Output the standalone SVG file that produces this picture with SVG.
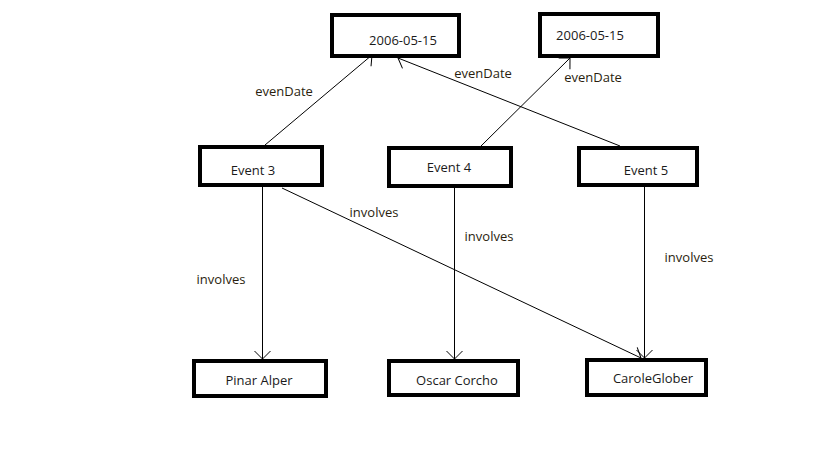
<svg xmlns="http://www.w3.org/2000/svg" width="819" height="460" viewBox="0 0 819 460">
<style>
.box{fill:#fff;stroke:#000;stroke-width:4}
.t{font-family:"Open Sans","Liberation Sans",sans-serif;font-size:13px;fill:#1a1a1a;text-anchor:middle}
.l{font-family:"Open Sans","Liberation Sans",sans-serif;font-size:13px;fill:#2a1e0e;text-anchor:middle}
.c{fill:none;stroke:#000;stroke-width:1}
</style>
<defs>
<marker id="arr" markerUnits="userSpaceOnUse" viewBox="-10 -10 12 20" refX="0" refY="0" markerWidth="12" markerHeight="20" orient="auto" overflow="visible">
<path d="M-8,-8 L0,0 L-8,8" fill="none" stroke="#000" stroke-width="1"/>
</marker>
</defs>
<rect width="819" height="460" fill="#fff"/>
<g id="connectors">
<line class="c" x1="265" y1="145" x2="372" y2="55" marker-end="url(#arr)"/>
<line class="c" x1="620" y1="146" x2="398" y2="58" marker-end="url(#arr)"/>
<line class="c" x1="481" y1="146" x2="570" y2="58" marker-end="url(#arr)"/>
<line class="c" x1="262.5" y1="187" x2="262.5" y2="359" marker-end="url(#arr)"/>
<line class="c" x1="454.5" y1="188" x2="454.5" y2="359" marker-end="url(#arr)"/>
<line class="c" x1="644.5" y1="187" x2="644.5" y2="358" marker-end="url(#arr)"/>
<line class="c" x1="282" y1="188" x2="641" y2="358" marker-end="url(#arr)"/>
<text class="l" x="284" y="96">evenDate</text>
<text class="l" x="483" y="78">evenDate</text>
<text class="l" x="593" y="82">evenDate</text>
<text class="l" x="221" y="284">involves</text>
<text class="l" x="374" y="217">involves</text>
<text class="l" x="489" y="241">involves</text>
<text class="l" x="689" y="262">involves</text>
</g>
<g id="dateA"><rect class="box" x="332" y="15" width="127" height="41"/><text class="t" x="403" y="45">2006-05-15</text></g>
<g id="dateB"><rect class="box" x="540" y="14" width="118" height="42"/><text class="t" x="590" y="40">2006-05-15</text></g>
<g id="event3"><rect class="box" x="200" y="147" width="122" height="38"/><text class="t" x="253" y="175">Event 3</text></g>
<g id="event4"><rect class="box" x="389" y="148" width="122" height="38"/><text class="t" x="449" y="172">Event 4</text></g>
<g id="event5"><rect class="box" x="579" y="148" width="118" height="37"/><text class="t" x="646" y="175">Event 5</text></g>
<g id="pinar"><rect class="box" x="194" y="361" width="132" height="35"/><text class="t" x="259" y="385">Pinar Alper</text></g>
<g id="oscar"><rect class="box" x="389" y="361" width="129" height="34"/><text class="t" x="457" y="385">Oscar Corcho</text></g>
<g id="carole"><rect class="box" x="587" y="360" width="119" height="35"/><text class="t" x="653" y="383">CaroleGlober</text></g>
</svg>
